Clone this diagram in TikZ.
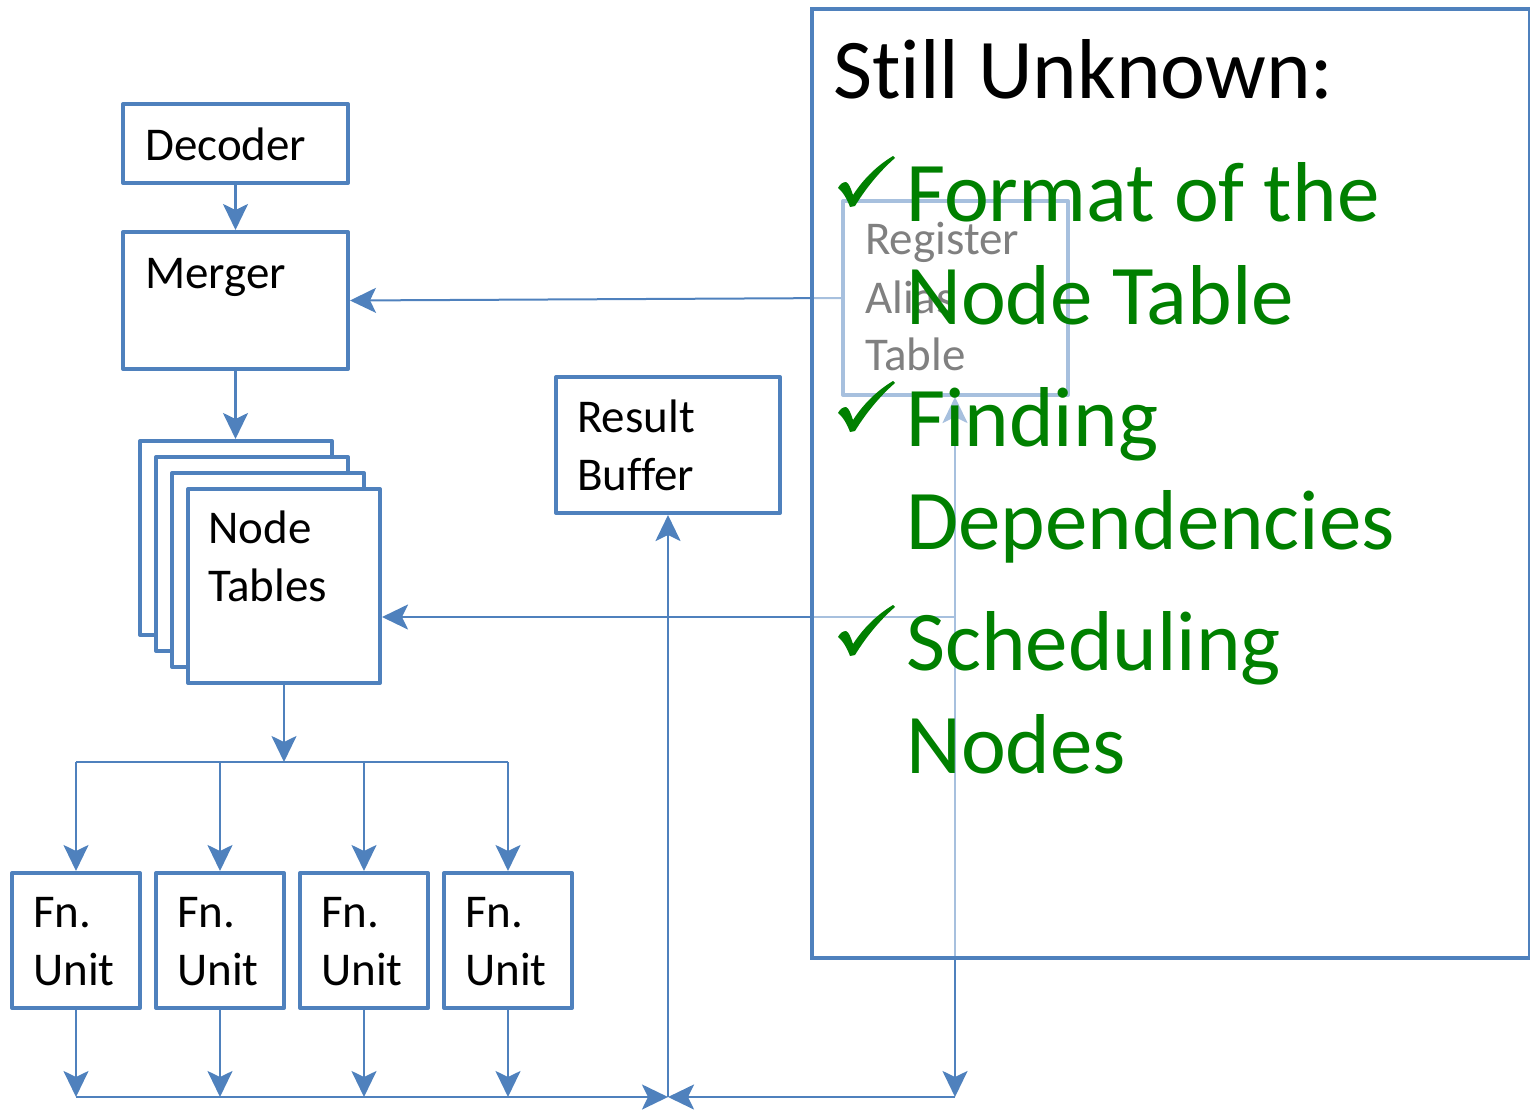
\documentclass[tikz,border=0pt]{standalone}
\usepackage{fontspec}
\setmainfont{Carlito}[Ligatures=NoCommon]
\usetikzlibrary{arrows.meta}
\definecolor{officeblue}{HTML}{4F81BD}
\definecolor{officegreen}{HTML}{008000}
\tikzset{
  blk/.style={draw=officeblue, line width=4pt, fill=white, inner sep=0pt, line join=round},
  lbl/.style={anchor=base west, inner sep=0pt, font=\fontsize{47}{58}\selectfont},
  big/.style={anchor=base west, inner sep=0pt, font=\fontsize{85}{100}\selectfont},
  item/.style={big, text=officegreen},
  headtip/.tip={Stealth[length=26pt, width=25pt, inset=6pt, fill=officeblue]},
  tip/.style={-headtip},
  wire/.style={draw, color=officeblue, line width=2.6pt},
  thinwire/.style={draw, color=officeblue, line width=2pt},
  checkmk/.pic={
    \fill[officegreen] (0,32) .. controls (2,28) and (5,26) .. (8,26)
      .. controls (11,27) and (13,33) .. (15,39)
      .. controls (26,22) and (40,9) .. (55,0) -- (57,2)
      .. controls (42,15) and (28,32) .. (17,50) -- (12,51)
      .. controls (9,43) and (5,36) .. (0,32) -- cycle;
  },
}
\begin{document}
\begin{tikzpicture}[x=1pt, y=-1pt]
\useasboundingbox (0,0) rectangle (1530,1109);

% ---- blocks of the pipeline ----
\node[blk, minimum width=225pt, minimum height=79pt] (decoder) at (235.5,143.5) {};
\node[lbl] (decoderT) at (145,160) {Decoder};

\node[blk, minimum width=225pt, minimum height=137pt] (merger) at (235.5,300.5) {};
\node[lbl] (mergerT) at (145,288) {Merger};

% stacked node tables
\node[blk, minimum width=192pt, minimum height=194pt] (nt1) at (236,538) {};
\node[blk, minimum width=192pt, minimum height=194pt] (nt2) at (252,554) {};
\node[blk, minimum width=192pt, minimum height=194pt] (nt3) at (268,570) {};
\node[blk, minimum width=192pt, minimum height=194pt] (nt4) at (284,586) {};
\node[lbl] (ntA) at (208,543) {Node};
\node[lbl] (ntB) at (208,601) {Tables};

\node[blk, minimum width=224pt, minimum height=136pt] (rb) at (668,445) {};
\node[lbl] (rbA) at (577,432) {Result};
\node[lbl] (rbB) at (577,490) {Buffer};

\foreach \i/\cx in {1/76, 2/220, 3/364, 4/508} {
  \node[blk, minimum width=128pt, minimum height=135pt] (fu\i) at (\cx,940.5) {};
  \node[lbl] (fuA\i) at (\cx-43,927) {Fn.};
  \node[lbl] (fuB\i) at (\cx-43,985) {Unit};
}

\node[blk, minimum width=225pt, minimum height=194pt] (rat) at (955.5,298) {};
\node[lbl] (ratA) at (865,254) {Register};
\node[lbl] (ratB) at (865,313) {Alias};
\node[lbl] (ratC) at (865,370) {Table};

% ---- junction points ----
\coordinate (split) at (284,762);
\coordinate (splitL) at (76,762);
\coordinate (splitR) at (508,762);
\coordinate (busL) at (76,1097);
\coordinate (busM) at (668,1097);
\coordinate (busR) at (955,1097);
\coordinate (ratS) at (955,617);

% ---- connectors ----
\draw[wire, tip] (decoder.south) -- (merger.north);
\draw[wire, tip] (merger.south) -- (nt1.north -| merger.south);
\draw[wire, tip] (nt4.south) -- (split);
\draw[thinwire] (splitL) -- (splitR);
\foreach \i in {1,...,4} {
  \draw[wire, tip] (fu\i.north |- split) -- (fu\i.north);
  \draw[wire, tip] (fu\i.south) -- (fu\i.south |- busL);
}
\draw[wire, tip] (busL) -- (busM);
\draw[wire, tip] (busR) -- (busM);
\draw[wire, tip] (busM) -- (rb.south);
\draw[thinwire, tip] (rat.west) -- (merger.east);
\draw[wire, tip] (ratS) -- (nt4.east |- ratS);
\draw[wire, headtip-headtip] (rat.south -| ratS) -- (busR);

% ---- translucent panel with the open questions ----
\node[draw=officeblue, line width=4pt, fill=white, fill opacity=0.5,
      minimum width=718pt, minimum height=949pt, inner sep=0pt] (unk) at (1171,483.5) {};
\node[big] (unkT) at (833,98) {Still Unknown:};

\pic (c1) at (838,156) {checkmk};
\node[item] (q1a) at (906,221) {Format of the};
\node[item] (q1b) at (906,324) {Node Table};

\pic (c2) at (838,381) {checkmk};
\node[item] (q2a) at (906,446) {Finding};
\node[item] (q2b) at (906,549) {Dependencies};

\pic (c3) at (838,605) {checkmk};
\node[item] (q3a) at (906,670) {Scheduling};
\node[item] (q3b) at (906,773) {Nodes};
\end{tikzpicture}
\end{document}
